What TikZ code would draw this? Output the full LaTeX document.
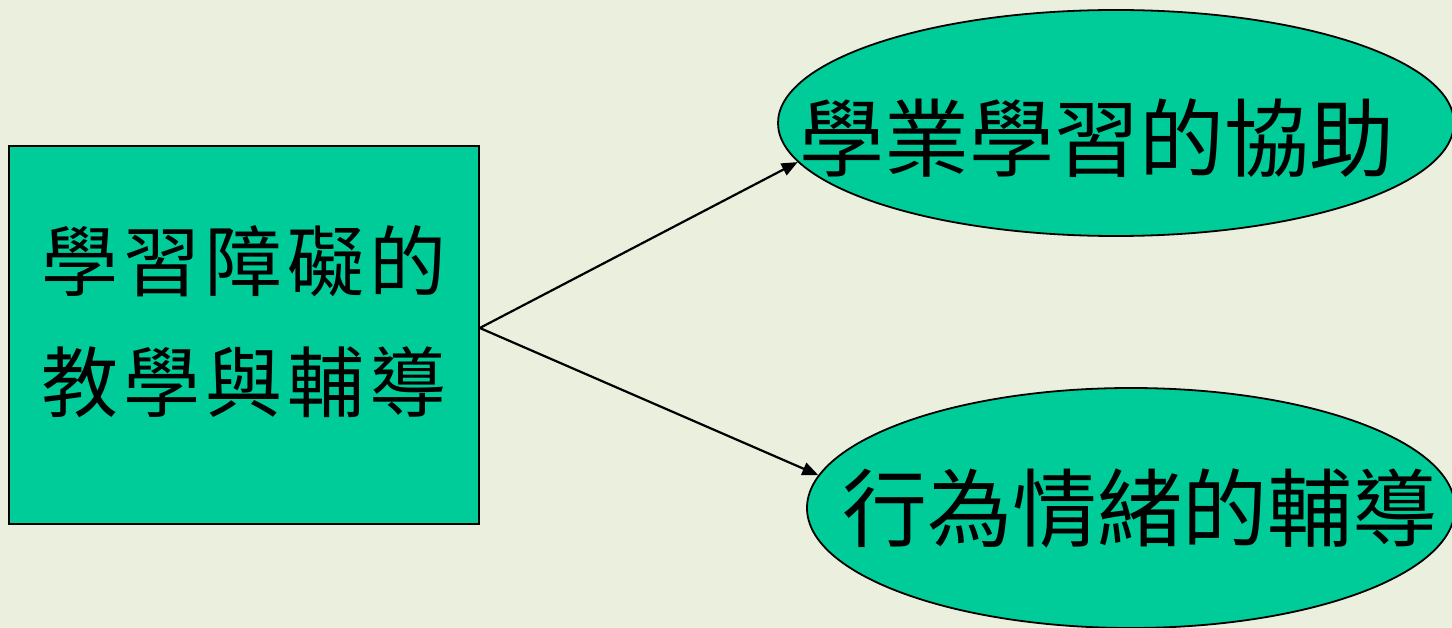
\documentclass[tikz,border=0pt]{standalone}
\usepackage{fontspec}
\newfontfamily\cjk{Noto Sans CJK TC}
\usetikzlibrary{shapes.geometric,arrows.meta}
\definecolor{bgpale}{RGB}{235,239,221}
\definecolor{tealfill}{RGB}{0,204,153}
\newcommand\gp{\hspace{5pt}}
\tikzset{
  srcbox/.style={draw=black, line width=1.6pt, fill=tealfill, rectangle, inner sep=0pt},
  goal/.style={draw=black, line width=1.8pt, fill=tealfill, ellipse, inner sep=0pt},
  link/.style={draw=black, line width=2.2pt, -{Triangle[length=16pt,width=13pt]}},
  boxtext/.style={font=\cjk\fontsize{77}{121}\selectfont, align=center, inner sep=0pt},
  goaltext/.style={font=\cjk\fontsize{85}{100}\selectfont, inner sep=0pt}
}
\begin{document}
\begin{tikzpicture}[x=1pt,y=-1pt]
\useasboundingbox (0,0) rectangle (1452,628);
\clip (0,0) rectangle (1452,628);
\fill[bgpale] (0,0) rectangle (1452,628);
\node[srcbox, minimum width=470pt, minimum height=378pt,
  label={[boxtext, yshift=13pt]center:{學\gp 習\gp 障\gp 礙\gp 的\\教\gp 學\gp 與\gp 輔\gp 導}}]
  (src) at (244,335) {};
\node[goal, minimum width=676pt, minimum height=226pt,
  label={[goaltext, xshift=-19pt, yshift=-15pt]center:學業學習的協助}]
  (g1) at (1116,123) {};
\node[goal, minimum width=648pt, minimum height=240pt,
  label={[goaltext, xshift=9pt]center:行為情緒的輔導}]
  (g2) at (1131,508) {};
\draw[link] ([yshift=7pt]src.east) -- (g1.187);
\draw[link] ([yshift=7pt]src.east) -- (g2.174);
\end{tikzpicture}
\end{document}
